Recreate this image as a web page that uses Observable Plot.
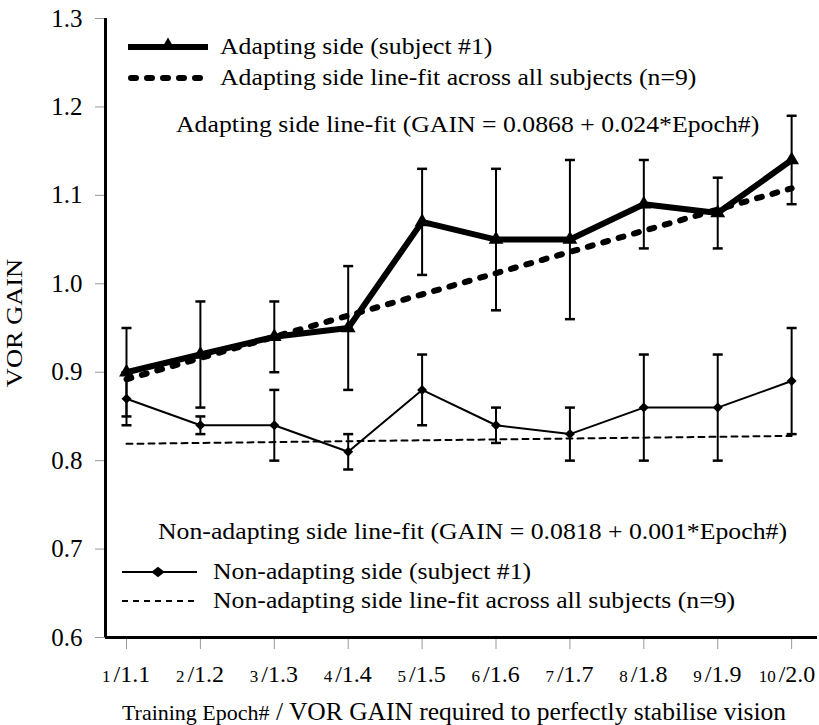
<!DOCTYPE html>
<html>
<head>
<meta charset="utf-8">
<script src="https://cdn.jsdelivr.net/npm/d3@7"></script>
<script src="https://cdn.jsdelivr.net/npm/@observablehq/plot@0.6"></script>
<style>
  html, body { margin: 0; padding: 0; background: #fff; }
  #chart svg { display: block; overflow: visible; }
</style>
</head>
<body>
<div id="chart"></div>
<script>
// ---- data ----
const epochs = [1, 2, 3, 4, 5, 6, 7, 8, 9, 10];
const requiredGain = ["1.1", "1.2", "1.3", "1.4", "1.5", "1.6", "1.7", "1.8", "1.9", "2.0"];
const adaptGain = [0.90, 0.92, 0.94, 0.95, 1.07, 1.05, 1.05, 1.09, 1.08, 1.14];
const adaptLow  = [0.85, 0.86, 0.90, 0.88, 1.01, 0.97, 0.96, 1.04, 1.04, 1.09];
const adaptHigh = [0.95, 0.98, 0.98, 1.02, 1.13, 1.13, 1.14, 1.14, 1.12, 1.19];
const nonAdaptGain = [0.87, 0.84, 0.84, 0.81, 0.88, 0.84, 0.83, 0.86, 0.86, 0.89];
const nonAdaptLow  = [0.84, 0.83, 0.80, 0.79, 0.84, 0.82, 0.80, 0.80, 0.80, 0.83];
const nonAdaptHigh = [0.90, 0.85, 0.88, 0.83, 0.92, 0.86, 0.86, 0.92, 0.92, 0.95];
const fitEpochs = [1, 10];
const adaptFit = [0.892, 1.108];
const nonAdaptFit = [0.819, 0.828];
const yTicks = [0.6, 0.7, 0.8, 0.9, 1.0, 1.1, 1.2, 1.3];
const xDomain = [0.716, 10.35];
const yDomain = [0.6, 1.3];

const legendLabels = [
  "Adapting side (subject #1)",
  "Adapting side line-fit across all subjects (n=9)",
  "Non-adapting side (subject #1)",
  "Non-adapting side line-fit across all subjects (n=9)"
];
const fitNotes = [
  "Adapting side line-fit (GAIN = 0.0868 + 0.024*Epoch#)",
  "Non-adapting side line-fit (GAIN = 0.0818 + 0.001*Epoch#)"
];
const yLabel = "VOR GAIN";
const xLabelA = "Training Epoch#";
const xLabelB = " / VOR GAIN required to perfectly stabilise vision";

// ---- tables ----
const adapt = epochs.map((e, i) => ({epoch: e, gain: adaptGain[i], low: adaptLow[i], high: adaptHigh[i]}));
const nonAdapt = epochs.map((e, i) => ({epoch: e, gain: nonAdaptGain[i], low: nonAdaptLow[i], high: nonAdaptHigh[i]}));
const adaptFitData = fitEpochs.map((e, i) => ({epoch: e, gain: adaptFit[i]}));
const nonAdaptFitData = fitEpochs.map((e, i) => ({epoch: e, gain: nonAdaptFit[i]}));
const xTickData = epochs.map((e, i) => ({epoch: e, label: "/" + requiredGain[i]}));

const FONT = "'Liberation Serif', 'Times New Roman', serif";
const cap = {draw(ctx) { ctx.moveTo(-5, 0); ctx.lineTo(5, 0); }};

const chart = Plot.plot({
  width: 819,
  height: 725,
  marginLeft: 105,
  marginRight: 2,
  marginTop: 18,
  marginBottom: 88,
  style: {fontFamily: FONT, background: "#fff", color: "#000"},
  x: {domain: xDomain, axis: null},
  y: {domain: yDomain, axis: null},
  marks: [
    // axes ticks & labels
    Plot.axisY({ticks: yTicks, tickSize: 10, tickPadding: 13, tickFormat: d3.format(".1f"),
      fontSize: 25, stroke: "#999", fill: "#000", label: null}),
    Plot.axisX({ticks: epochs, tickSize: 12, tickFormat: () => "", stroke: "#999", label: null}),
    Plot.text(xTickData, {x: "epoch", y: () => yDomain[0], text: d => String(d.epoch), textAnchor: "end",
      lineAnchor: "bottom", dx: -16, dy: 44, fontSize: 17, fill: "#000"}),
    Plot.text(xTickData, {x: "epoch", y: () => yDomain[0], text: "label", textAnchor: "start",
      lineAnchor: "bottom", dx: -13, dy: 44, fontSize: 24, fill: "#000"}),
    // axis lines
    Plot.ruleX([xDomain[0]], {stroke: "#000", strokeWidth: 3}),
    Plot.ruleY([yDomain[0]], {stroke: "#000", strokeWidth: 3}),
    // error bars
    Plot.ruleX(nonAdapt, {x: "epoch", y1: "low", y2: "high", stroke: "#000", strokeWidth: 2}),
    Plot.dot(nonAdapt, {x: "epoch", y: "low", symbol: cap, stroke: "#000", strokeWidth: 2.5, r: 5}),
    Plot.dot(nonAdapt, {x: "epoch", y: "high", symbol: cap, stroke: "#000", strokeWidth: 2.5, r: 5}),
    Plot.ruleX(adapt, {x: "epoch", y1: "low", y2: "high", stroke: "#000", strokeWidth: 2}),
    Plot.dot(adapt, {x: "epoch", y: "low", symbol: cap, stroke: "#000", strokeWidth: 2.5, r: 5}),
    Plot.dot(adapt, {x: "epoch", y: "high", symbol: cap, stroke: "#000", strokeWidth: 2.5, r: 5}),
    // fits
    Plot.line(nonAdaptFitData, {x: "epoch", y: "gain", stroke: "#000", strokeWidth: 2, strokeDasharray: "6,5"}),
    Plot.line(adaptFitData, {x: "epoch", y: "gain", stroke: "#000", strokeWidth: 6,
      strokeDasharray: "5,11", strokeLinecap: "round"}),
    // subject lines
    Plot.line(nonAdapt, {x: "epoch", y: "gain", stroke: "#000", strokeWidth: 2}),
    Plot.dot(nonAdapt, {x: "epoch", y: "gain", symbol: "diamond2", fill: "#000", r: 4.5}),
    Plot.line(adapt, {x: "epoch", y: "gain", stroke: "#000", strokeWidth: 6, strokeLinejoin: "round"}),
    Plot.dot(adapt, {x: "epoch", y: "gain", symbol: "triangle", fill: "#000", r: 5.5})
  ]
});

// ---- in-plot legend, annotations and axis titles ----
const svg = d3.select(chart);
const g = svg.append("g").attr("font-family", FONT).attr("fill", "#000").attr("text-anchor", "start");
const STRETCH = 1.12;
function key(x1, x2, y, sw, dash, cap) {
  g.append("line").attr("x1", x1).attr("x2", x2).attr("y1", y).attr("y2", y)
    .attr("stroke", "#000").attr("stroke-width", sw)
    .attr("stroke-dasharray", dash).attr("stroke-linecap", cap);
}
function label(x, y, t, size) {
  g.append("text").attr("transform", `translate(${x},${y}) scale(${STRETCH},1)`)
    .attr("dy", "0.32em").attr("font-size", size).attr("text-anchor", "start").text(t);
}
key(128, 208, 47, 6, null, "butt");
g.append("path").attr("transform", "translate(168,45)").attr("d", d3.symbol(d3.symbolTriangle2, 120)());
label(220, 47, legendLabels[0], 23);
key(131, 205, 78, 6, "5,11", "round");
label(220, 78, legendLabels[1], 23);
label(176, 125, fitNotes[0], 23);
label(158, 532, fitNotes[1], 23);
key(122, 197, 572, 2, null, "butt");
g.append("path").attr("transform", "translate(158,572) scale(1.3,1)").attr("d", d3.symbol(d3.symbolDiamond2, 70)());
label(213, 572, legendLabels[2], 23);
key(122, 197, 601, 2, "6,5", "butt");
label(213, 601, legendLabels[3], 23);

// y-axis title
g.append("text").attr("transform", "translate(14,323) rotate(-90) scale(1.1,1)")
  .attr("text-anchor", "middle").attr("dy", "0.32em").attr("font-size", 24).text(yLabel);

// x-axis title
const xt = g.append("text").attr("x", 454).attr("y", 720).attr("text-anchor", "middle");
xt.append("tspan").attr("font-size", 22).text(xLabelA);
xt.append("tspan").attr("font-size", 25.5).text(xLabelB);

document.getElementById("chart").appendChild(chart);
</script>
</body>
</html>
